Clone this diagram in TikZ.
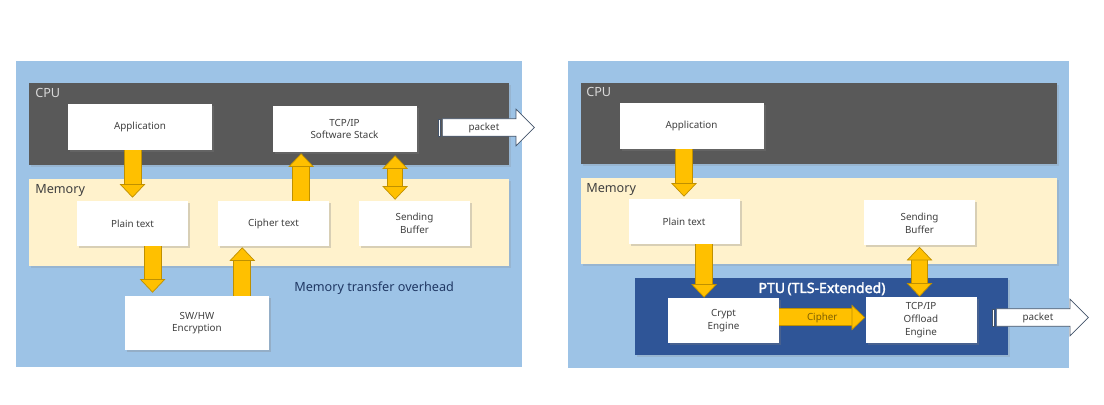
\documentclass[tikz,border=0pt]{standalone}
\usepackage{fontspec}
\setmainfont{Noto Sans}
\newfontfamily\ptuheavy{Noto Sans}[FakeBold=2.2]
\usetikzlibrary{arrows.meta,calc,positioning,shadows,shapes.arrows}
\definecolor{ptubg}{HTML}{9DC3E6}
\definecolor{ptucpu}{HTML}{595959}
\definecolor{ptumem}{HTML}{FFF2CC}
\definecolor{ptunavy}{HTML}{2F5597}
\definecolor{ptuyellow}{HTML}{FFC000}
\definecolor{ptuedge}{HTML}{BF9000}
\definecolor{ptuink}{HTML}{404040}
\definecolor{ptulight}{HTML}{D9D9D9}
\definecolor{ptuline}{HTML}{44546A}
\definecolor{ptubrown}{HTML}{7F6000}
\definecolor{ptudeep}{HTML}{203864}
\tikzset{
  ptutip/.tip={Triangle[length=3.4mm, width=6.4mm, fill=ptuyellow, color=ptuedge, line width=0.5pt]},
  ptu area/.style={drop shadow={shadow xshift=0.4mm, shadow yshift=-0.4mm, opacity=0.2}},
  ptu box/.style={fill=white, inner sep=0pt, align=center, text=ptuink,
    font=\fontsize{7}{9}\selectfont,
    drop shadow={shadow xshift=0.5mm, shadow yshift=-0.5mm, opacity=0.3}},
  ptu wide/.style={ptu box, minimum width=36mm, minimum height=11.5mm},
  ptu small/.style={ptu box, minimum width=27.75mm, minimum height=11.25mm},
  ptu label/.style={font=\fontsize{9}{11}\selectfont, inner sep=0pt, anchor=base west},
  ptu arrow/.style={line width=4mm, draw=ptuyellow, line cap=butt, -ptutip,
    preaction={draw=ptuedge, line width=4.5mm, -, shorten >=3.2mm}},
  ptu both/.style={line width=3.6mm, draw=ptuyellow, line cap=butt, ptutip-ptutip,
    preaction={draw=ptuedge, line width=4.1mm, -, shorten >=3.2mm, shorten <=3.2mm}},
  ptu packet/.style={single arrow, single arrow head extend=2.4mm, minimum height=23mm,
    fill=white, draw=ptuline, line width=0.5pt, inner xsep=0.5mm, inner ysep=0.8mm,
    text width=17.5mm, align=center, text height=2mm, text depth=0.6mm,
    font=\fontsize{7}{8}\selectfont, text=ptuink, anchor=tail},
  ptu bar/.style={fill=white, draw=ptuline, line width=0.4pt, inner sep=0pt,
    minimum width=0.6mm, minimum height=4.2mm}
}

\begin{document}
\begin{tikzpicture}[x=0.25mm, y=-0.25mm]
  \useasboundingbox (0,0) rectangle (1104,405);

  % left: software TLS
  \fill[ptubg] (16,61) rectangle (522,367);
  \fill[ptucpu, ptu area] (29,83) rectangle (509,165);
  \fill[ptumem, ptu area] (29,179) rectangle (509,266);
  \node[ptu label, text=ptulight] (cpu1) at (35,98) {CPU};
  \node[ptu label, text=ptuink] (mem1) at (35,194) {Memory};
  \node[ptu wide] (app1) at (140,127) {Application};
  \node[ptu wide] (tcp1) at (344.5,129) {TCP/IP\\Software Stack};
  \node[ptu small] (plain1) at (132.5,223.5) {Plain text};
  \node[ptu small] (cipher1) at (273.5,223.5) {Cipher text};
  \node[ptu small] (buf1) at (414.5,223.5) {Sending\\Buffer};
  \node[ptu wide, minimum height=13.5mm] (enc1) at (197,323) {SW/HW\\Encryption};
  \node[ptu label, text=ptudeep] (over) at (294,292) {Memory transfer overhead};
  \node[ptu packet] (pkt1) at (442,127.5) {packet};
  \node[ptu bar, left=0.3mm of pkt1.tail] (bar1) {};

  \coordinate (c1) at ($(tcp1.south west)!0.2!(tcp1.south east)$);
  \coordinate (c2) at ($(tcp1.south west)!0.85!(tcp1.south east)$);
  \coordinate (c3) at ($(plain1.south west)!0.68!(plain1.south east)$);
  \coordinate (c4) at ($(cipher1.south west)!0.22!(cipher1.south east)$);
  \draw[ptu arrow] (app1.south -| plain1.north) -- ($(plain1.north)+(0,-3)$);
  \draw[ptu arrow] (cipher1.north -| c1) -- ($(c1)+(0,1)$);
  \draw[ptu both] ($(c2)+(0,3)$) -- ($(buf1.north -| c2)+(0,-1)$);
  \draw[ptu arrow] (c3) -- ($(enc1.north -| c3)+(0,-3)$);
  \draw[ptu arrow] (enc1.north -| c4) -- ($(c4)+(0,1)$);

  % right: PTU offload
  \fill[ptubg] (568,61) rectangle (1069,368);
  \fill[ptucpu, ptu area] (581,83) rectangle (1057,164);
  \fill[ptumem, ptu area] (581,178) rectangle (1057,264);
  \fill[ptunavy, ptu area] (635,278) rectangle (1008,355);
  \node[ptu label, text=ptulight] (cpu2) at (586,97) {CPU};
  \node[ptu label, text=ptuink] (mem2) at (586,193) {Memory};
  \node[ptu label, anchor=base, text=white, font=\ptuheavy\fontsize{10}{12}\selectfont] (ptu) at (822,293) {PTU\,(TLS-Extended)};
  \node[ptu wide] (app2) at (691.5,126) {Application};
  \node[ptu small] (plain2) at (684,221.5) {Plain text};
  \node[ptu small] (buf2) at (919.5,223) {Sending\\Buffer};
  \node[ptu small] (crypt) at (723.5,320.5) {Crypt\\Engine};
  \node[ptu small, minimum height=11.5mm] (offload) at (921,320) {TCP/IP\\Offload\\Engine};
  \node[ptu packet] (pkt2) at (996,317.5) {packet};
  \node[ptu bar, left=0.3mm of pkt2.tail] (bar2) {};

  \coordinate (c5) at ($(plain2.south west)!0.68!(plain2.south east)$);
  \draw[ptu arrow] (app2.south -| plain2.north) -- ($(plain2.north)+(0,-2)$);
  \draw[ptu arrow] (c5) -- (crypt.north -| c5);
  \draw[ptu both] ($(buf2.south)+(0,1)$) -- (offload.north -| buf2.south);
  \draw[ptu arrow] ($(crypt.east)+(0,-3)$) -- ($(offload.west |- crypt.east)+(0,-3)$)
    node[midway, text=ptubrown, font=\fontsize{7}{8}\selectfont] {Cipher};
\end{tikzpicture}
\end{document}
